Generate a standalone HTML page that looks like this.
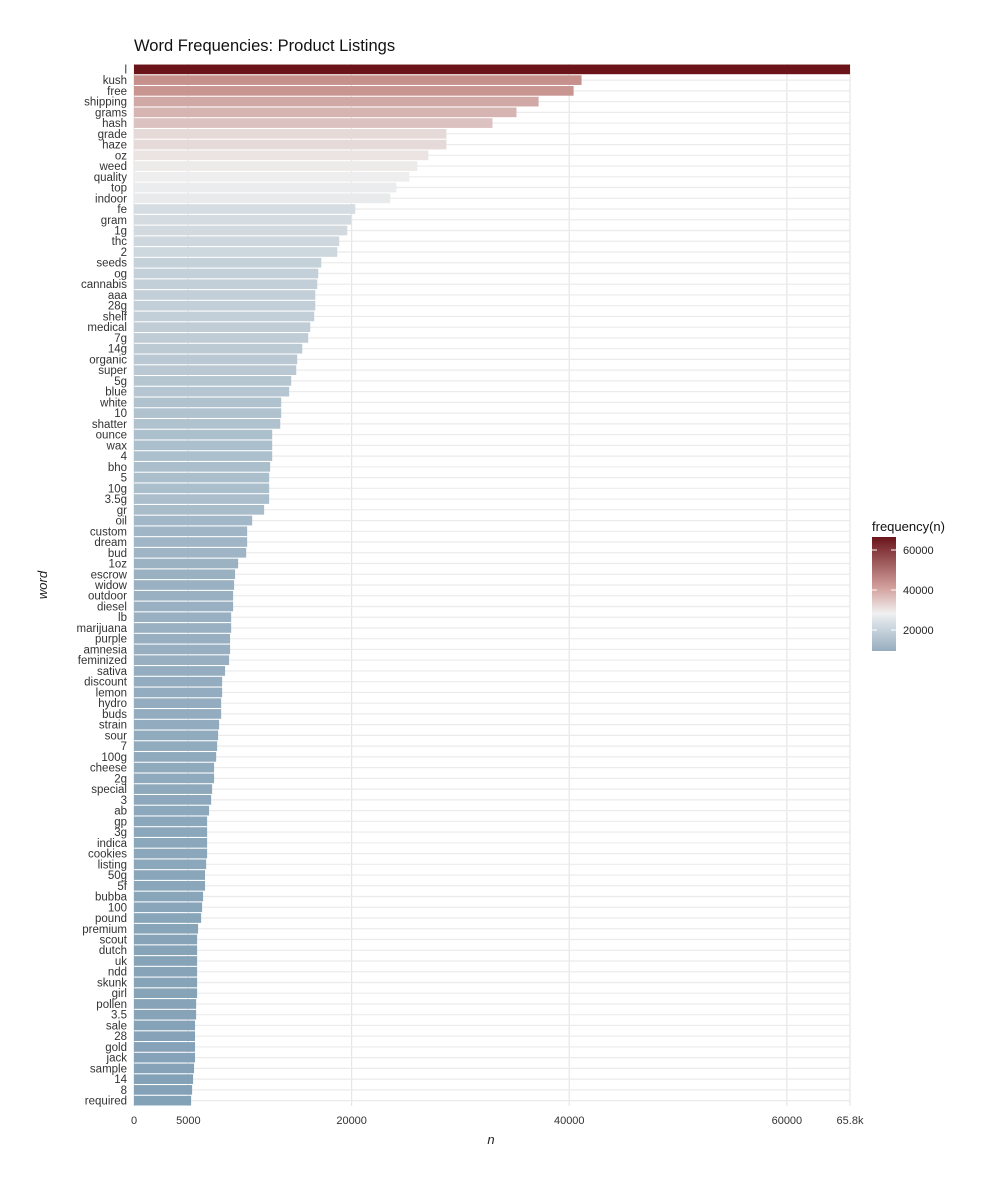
<!DOCTYPE html>
<html><head><meta charset="utf-8"><style>
body{margin:0;background:#fff;font-family:"Liberation Sans",sans-serif;}
svg text{font-family:"Liberation Sans",sans-serif;}
</style></head><body>
<svg id="chart" width="1000" height="1180" xmlns="http://www.w3.org/2000/svg">
<defs>
<linearGradient id="lg" x1="0" y1="1" x2="0" y2="0">
<stop offset="0" stop-color="#97adbf"/>
<stop offset="0.25" stop-color="#d8e0e6"/>
<stop offset="0.33" stop-color="#f0f0f0"/>
<stop offset="0.55" stop-color="#d3a29e"/>
<stop offset="1" stop-color="#6a141a"/>
</linearGradient>
</defs>
<text x="134" y="51" font-size="16.5" fill="#111">Word Frequencies: Product Listings</text>
<g id="grid"></g>
<g id="bars"></g>
<g id="ylabels"></g>
<g id="xticks"></g>
<text x="491" y="1144" font-size="13" font-style="italic" font-family="Liberation Serif" text-anchor="middle" fill="#222">n</text>
<text transform="translate(47,585) rotate(-90)" font-size="13" font-style="italic" font-family="Liberation Serif" text-anchor="middle" fill="#222">word</text>
<g>
<text x="872" y="531" font-size="13" fill="#111">frequency(n)</text>
<rect x="872" y="537" width="24" height="114" fill="url(#lg)"/>
<g id="legticks"></g>
</g>
</svg>
<script>
const words=["l","kush","free","shipping","grams","hash","grade","haze","oz","weed","quality","top","indoor","fe","gram","1g","thc","2","seeds","og","cannabis","aaa","28g","shelf","medical","7g","14g","organic","super","5g","blue","white","10","shatter","ounce","wax","4","bho","5","10g","3.5g","gr","oil","custom","dream","bud","1oz","escrow","widow","outdoor","diesel","lb","marijuana","purple","amnesia","feminized","sativa","discount","lemon","hydro","buds","strain","sour","7","100g","cheese","2g","special","3","ab","gp","3g","indica","cookies","listing","50g","5f","bubba","100","pound","premium","scout","dutch","uk","ndd","skunk","girl","pollen","3.5","sale","28","gold","jack","sample","14","8","required"];
const counts=[65800,41130,40400,37180,35150,32940,28710,28710,27050,26040,25300,24110,23560,20340,19970,19600,18860,18680,17210,16930,16840,16660,16660,16560,16200,16010,15460,15000,14910,14450,14260,13530,13530,13440,12700,12700,12700,12510,12420,12420,12420,11960,10860,10400,10400,10310,9570,9290,9200,9110,9110,8930,8930,8830,8830,8740,8370,8100,8100,8010,8010,7820,7730,7640,7550,7360,7360,7180,7090,6900,6720,6720,6720,6720,6630,6530,6530,6350,6260,6170,5890,5800,5800,5800,5800,5800,5800,5710,5710,5610,5610,5610,5610,5520,5430,5340,5250];
const xTicks=[0,5000,20000,40000,60000,65800];
const xTickLabels=["0","5000","20000","40000","60000","65.8k"];
const legTicks=[20000,40000,60000];
const NS="http://www.w3.org/2000/svg";
const X0=134,X1=850,XMAX=65800;
const x=v=>X0+(X1-X0)*v/XMAX;
const Y0=64,Y1=1106;
const step=(Y1-Y0)/words.length;
const yc=i=>Y0+step*(i+0.5);
const ly=v=>630-(v-20000)*0.002;
function lerp(a,b,t){return a.map((c,i)=>Math.round(c+(b[i]-c)*t));}
function color(v){
  const lo=[130,160,182],mid=[240,240,240],pk=[196,140,135],hi=[106,20,26];
  let c;
  if(v<25000){c=lerp(lo,mid,Math.max(0,(v-5000)/20000));}
  else if(v<42000){c=lerp(mid,pk,(v-25000)/17000);}
  else c=lerp(pk,hi,Math.min(1,(v-42000)/23800));
  return `rgb(${c[0]},${c[1]},${c[2]})`;
}
function mk(tag,attrs,parent){const e=document.createElementNS(NS,tag);for(const k in attrs)e.setAttribute(k,attrs[k]);document.getElementById(parent).appendChild(e);return e;}
xTicks.forEach((t,i)=>{
  const g=mk('line',{x1:x(t),x2:x(t),y1:Y0,y2:Y1,stroke:'#e6e6e6','stroke-width':1.2},'grid');
  
  
  const tx=mk('text',{x:x(t),y:1124,'font-size':11,'text-anchor':'middle',fill:'#333'},'xticks');
  tx.textContent=xTickLabels[i];
  
  
});
words.forEach((w,i)=>{
  const gl=mk('line',{x1:X0,x2:X1,y1:yc(i),y2:yc(i),stroke:'#ebebeb','stroke-width':1.2},'grid');
  
  
  const r=mk('rect',{x:X0,y:yc(i)-step*0.45,width:x(counts[i])-X0,height:step*0.9,fill:color(counts[i])},'bars');
  
  
  const t=mk('text',{x:127,y:yc(i)+4,'font-size':11.5,'text-anchor':'end',fill:'#333'},'ylabels');
  t.textContent=w;
  
  
});
legTicks.forEach(v=>{
  const l=mk('line',{x1:872,x2:877,y1:ly(v),y2:ly(v),stroke:'#fff','stroke-width':1},'legticks');
  
  
  const l2=mk('line',{x1:891,x2:896,y1:ly(v),y2:ly(v),stroke:'#fff','stroke-width':1},'legticks');
  
  
  const t=mk('text',{x:903,y:ly(v)+4,'font-size':11,fill:'#222'},'legticks');
  t.textContent=v;
  
  
});
</script>
</body></html>
